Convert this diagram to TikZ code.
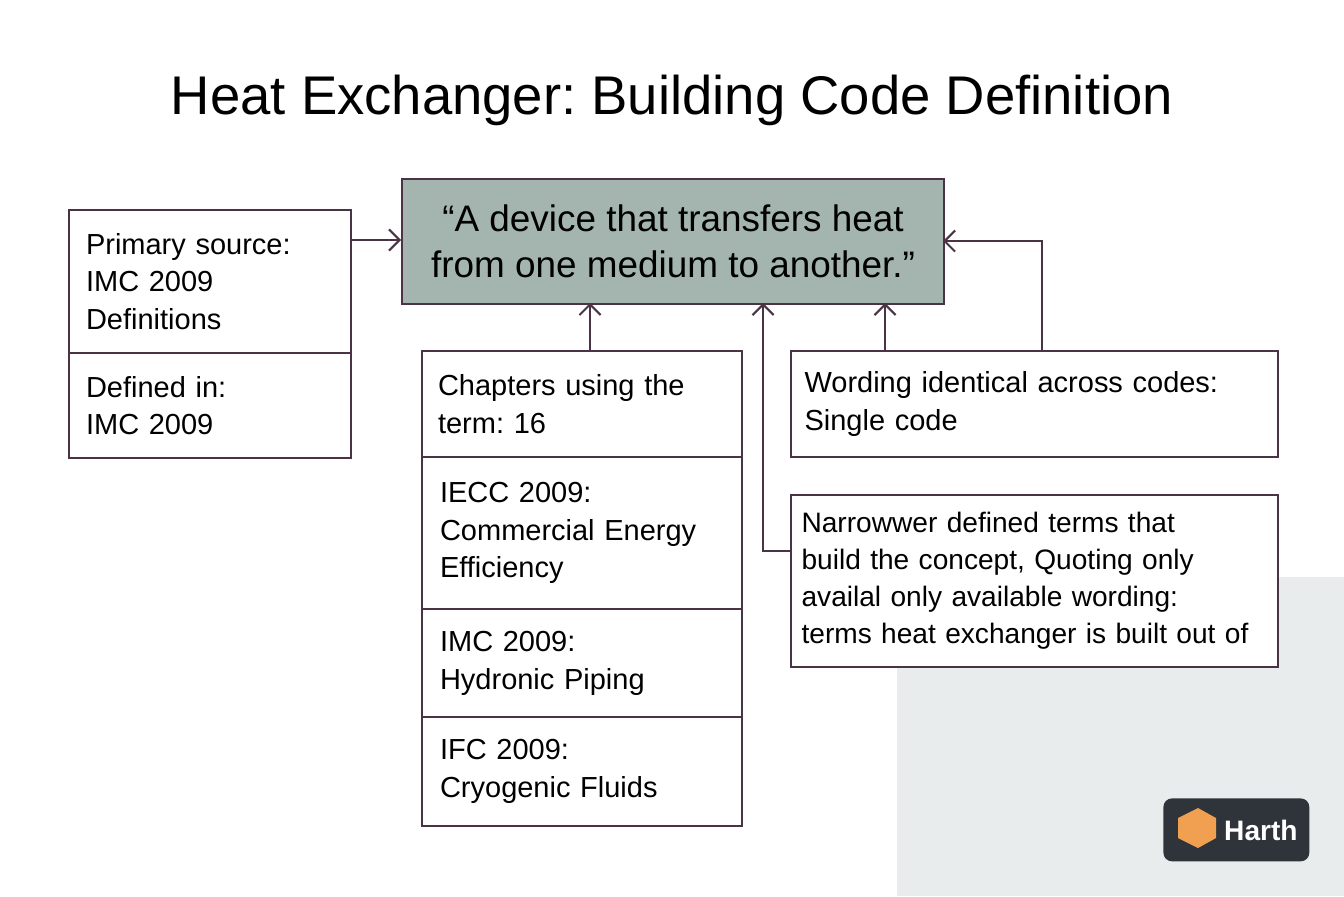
\documentclass[tikz,border=0pt]{standalone}
\usepackage{fontspec}
\setmainfont{Liberation Sans}
\frenchspacing
\usetikzlibrary{arrows.meta, positioning}
\definecolor{boxedge}{HTML}{4A3344}
\definecolor{quotefill}{HTML}{A4B5B0}
\definecolor{cornergray}{HTML}{E8ECEC}
\definecolor{logodark}{HTML}{2E3439}
\definecolor{logoorange}{HTML}{F0A050}
\tikzset{
	cell/.style={draw=boxedge, line width=1.2pt, fill=white, anchor=north west,
		align=left, inner sep=0pt, font=\fontsize{16.5}{21.5}\selectfont},
	link/.style={draw=boxedge, line width=1.2pt, -{Straight Barb[length=6pt, width=12pt]}}
}
\begin{document}
\begin{tikzpicture}[x=0.02cm, y=-0.02cm]
	\useasboundingbox (0,0) rectangle (1344,896);
	\fill[cornergray] (897,577) rectangle (1344,896);
	\node[font=\fontsize{31}{36}\selectfont] (title) at (672,100) {Heat Exchanger: Building Code Definition};

	% central definition
	\node[cell, fill=quotefill, minimum width=542*0.02cm, minimum height=125*0.02cm,
		align=center, font=\fontsize{21}{26}\selectfont] (quote) at (401,178)
		{“A device that transfers heat\\from one medium to another.”};

	% left source boxes
	\node[cell, minimum width=282*0.02cm, minimum height=143*0.02cm, text width=248*0.02cm] (source) at (68,209)
		{Primary source:\\IMC 2009\\Definitions};
	\node[cell, minimum width=282*0.02cm, minimum height=105*0.02cm, text width=248*0.02cm] (defined) at (68,352)
		{Defined in:\\IMC 2009};

	% chapters stack
	\node[cell, minimum width=320*0.02cm, minimum height=106*0.02cm, text width=288*0.02cm] (chapters) at (421,350)
		{Chapters using the\\term: 16};
	\node[cell, minimum width=320*0.02cm, minimum height=152*0.02cm, text width=284*0.02cm] (iecc) at (421,456)
		{IECC 2009:\\Commercial Energy\\Efficiency};
	\node[cell, minimum width=320*0.02cm, minimum height=108*0.02cm, text width=284*0.02cm] (imc) at (421,608)
		{IMC 2009:\\Hydronic Piping};
	\node[cell, minimum width=320*0.02cm, minimum height=109*0.02cm, text width=284*0.02cm] (ifc) at (421,716)
		{IFC 2009:\\Cryogenic Fluids};

	% right boxes
	\node[cell, minimum width=487*0.02cm, minimum height=106*0.02cm, text width=460*0.02cm] (wording) at (790,350)
		{Wording identical across codes:\\Single code};
	\node[cell, minimum width=487*0.02cm, minimum height=172*0.02cm, text width=466*0.02cm,
		font=\fontsize{16}{21}\selectfont] (narrow) at (790,494)
		{Narrowwer defined terms that\\build the concept, Quoting only\\availal only available wording:\\terms heat exchanger is built out of};

	% connectors
	\coordinate (qleft) at (401,240);
	\coordinate (qright) at (943,241);
	\draw[link] (source.east |- qleft) -- (qleft);
	\draw[link] (chapters.north -| 590,0) -- (590,303);
	\draw[link] (narrow.west |- 0,551) -- (763,551) -- (763,303);
	\draw[link] (wording.north -| 885,0) -- (885,303);
	\draw[link] (wording.north -| 1042,0) -- (1042,241) -- (qright);

	% logo
	\node[fill=logodark, rounded corners=5pt, minimum width=146*0.02cm, minimum height=63*0.02cm,
		anchor=north west] (logo) at (1163,798) {};
	\fill[logoorange] (1178,818) -- (1198,808) -- (1216,818) -- (1216,838) -- (1198,848) -- (1178,838) -- cycle;
	\node[text=white, font=\fontsize{16}{18}\selectfont\bfseries, anchor=west] (brand) at (1218,830) {Harth};
\end{tikzpicture}
\end{document}
